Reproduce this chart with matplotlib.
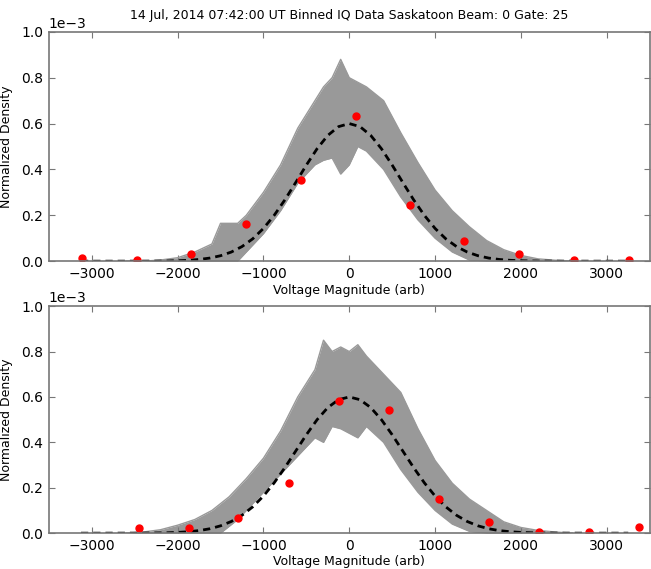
import numpy as np
import matplotlib.pyplot as plt

# fitted curve grid (arb voltage)
fit_x = np.arange(-3125, 3251, 125)

# bin centres and binned densities (x1e-3)
top_bins = [-3113, -2477, -1841, -1205, -566, 74, 713, 1341, 1981, 2616, 3256]
top_dens = [0.014, 0.007, 0.031, 0.160, 0.354, 0.635, 0.245, 0.086, 0.031, 0.003, 0.007]
bot_bins = [-2453, -1872, -1291, -706, -120, 462, 1047, 1628, 2209, 2795, 3376]
bot_dens = [0.023, 0.023, 0.065, 0.220, 0.583, 0.542, 0.151, 0.051, 0.006, 0.004, 0.025]

# gaussian fits, |x| from 3250 down to 125 in steps of 125 (x1e-3)
top_fit_half = [0.0, 0.0, 0.0, 0.0, 0.0, 0.0001, 0.0001, 0.0002, 0.0004, 0.0009,
                0.0019, 0.0038, 0.0074, 0.0135, 0.0237, 0.0397, 0.0636, 0.0974,
                0.1427, 0.1998, 0.2675, 0.3424, 0.4190, 0.4903, 0.5485, 0.5867]
bot_fit_half = [0.0, 0.0, 0.0, 0.0, 0.0001, 0.0001, 0.0002, 0.0004, 0.0008, 0.0017, 0.0033,
                0.0062, 0.0112, 0.0193, 0.0322, 0.0513, 0.0786, 0.1157, 0.1634,
                0.2216, 0.2887, 0.3610, 0.4334, 0.4997, 0.5532, 0.5879]
fit_peak = 0.6

# spread of the individual IQ histograms (x1e-3)
band_x = [-2600, -2400, -2200, -2000, -1800, -1600, -1500, -1400, -1300, -1200, -1000,
          -800, -600, -400, -300, -200, -100, 0, 100, 200, 400, 600, 800, 1000,
          1200, 1400, 1600, 1800, 2000, 2200, 2400, 2600]
top_upper = [0.0, 0.0, 0.005, 0.015, 0.040, 0.075, 0.165, 0.165, 0.165, 0.200, 0.300,
             0.420, 0.580, 0.700, 0.760, 0.800, 0.880, 0.800, 0.780, 0.760, 0.700,
             0.560, 0.430, 0.310, 0.220, 0.150, 0.090, 0.050, 0.025, 0.010, 0.004, 0.0]
top_lower = [0.0, 0.0, 0.0, 0.0, 0.0, 0.0, 0.0, 0.0, 0.0, 0.040, 0.120,
             0.220, 0.340, 0.420, 0.440, 0.450, 0.380, 0.420, 0.500, 0.480, 0.400,
             0.280, 0.180, 0.100, 0.040, 0.005, 0.0, 0.0, 0.0, 0.0, 0.0, 0.0]
bot_upper = [0.0, 0.005, 0.015, 0.035, 0.060, 0.100, 0.130, 0.160, 0.200, 0.240, 0.330,
             0.450, 0.600, 0.720, 0.850, 0.800, 0.820, 0.800, 0.830, 0.780, 0.700,
             0.620, 0.460, 0.320, 0.220, 0.150, 0.100, 0.050, 0.025, 0.012, 0.005, 0.0]
bot_lower = [0.0, 0.0, 0.0, 0.0, 0.0, 0.0, 0.0, 0.030, 0.060, 0.100, 0.180,
             0.260, 0.340, 0.420, 0.400, 0.470, 0.460, 0.440, 0.420, 0.470, 0.400,
             0.280, 0.180, 0.100, 0.040, 0.008, 0.0, 0.0, 0.0, 0.0, 0.0, 0.0]

title = '14 Jul, 2014 07:42:00 UT Binned IQ Data Saskatoon Beam: 0 Gate: 25'


def full_fit(half):
    # left side -3125..-125, peak, right side 125..3250
    return np.array(list(half[1:]) + [fit_peak] + list(reversed(half)))


def draw_panel(ax, bins, dens, upper, lower, fit_half):
    scale = 1e-3
    bx = np.array(band_x)
    up = np.array(upper) * scale
    lo = np.array(lower) * scale
    ax.fill_between(bx, lo, up, color='#999999', lw=0)
    ax.plot(bx, up, color='#999999', lw=1)
    ax.plot(bx, lo, color='#999999', lw=1)
    ax.plot(fit_x, full_fit(fit_half) * scale, 'k--', lw=2, dashes=(2.6, 1.8))
    ax.plot(bins, np.array(dens) * scale, 'o', color='red', ms=5, mec='red')
    ax.set_xlim(-3500, 3500)
    ax.set_ylim(0, 1e-3)
    ax.set_xticks([-3000, -2000, -1000, 0, 1000, 2000, 3000])
    ax.set_yticks(np.arange(0, 1.01e-3, 0.2e-3))
    ax.set_xlabel('Voltage Magnitude (arb)', fontsize=9, labelpad=2)
    ax.set_ylabel('Normalized Density', fontsize=9, labelpad=6)
    ax.tick_params(direction='in', top=True, right=True, length=4,
                   color='#777777', labelsize=10, pad=4)
    ax.ticklabel_format(axis='y', style='sci', scilimits=(0, 0))
    ax.yaxis.get_offset_text().set_fontsize(10)
    for sp in ax.spines.values():
        sp.set_color('#777777')
        sp.set_linewidth(1.2)


fig = plt.figure(figsize=(6.51, 5.69), dpi=100)
ax1 = fig.add_axes([0.075, 0.541, 0.923, 0.403])
ax2 = fig.add_axes([0.075, 0.063, 0.923, 0.399])

draw_panel(ax1, top_bins, top_dens, top_upper, top_lower, top_fit_half)
draw_panel(ax2, bot_bins, bot_dens, bot_upper, bot_lower, bot_fit_half)
ax1.set_title(title, fontsize=9, pad=9)

fig.savefig('out.png', dpi=100)
